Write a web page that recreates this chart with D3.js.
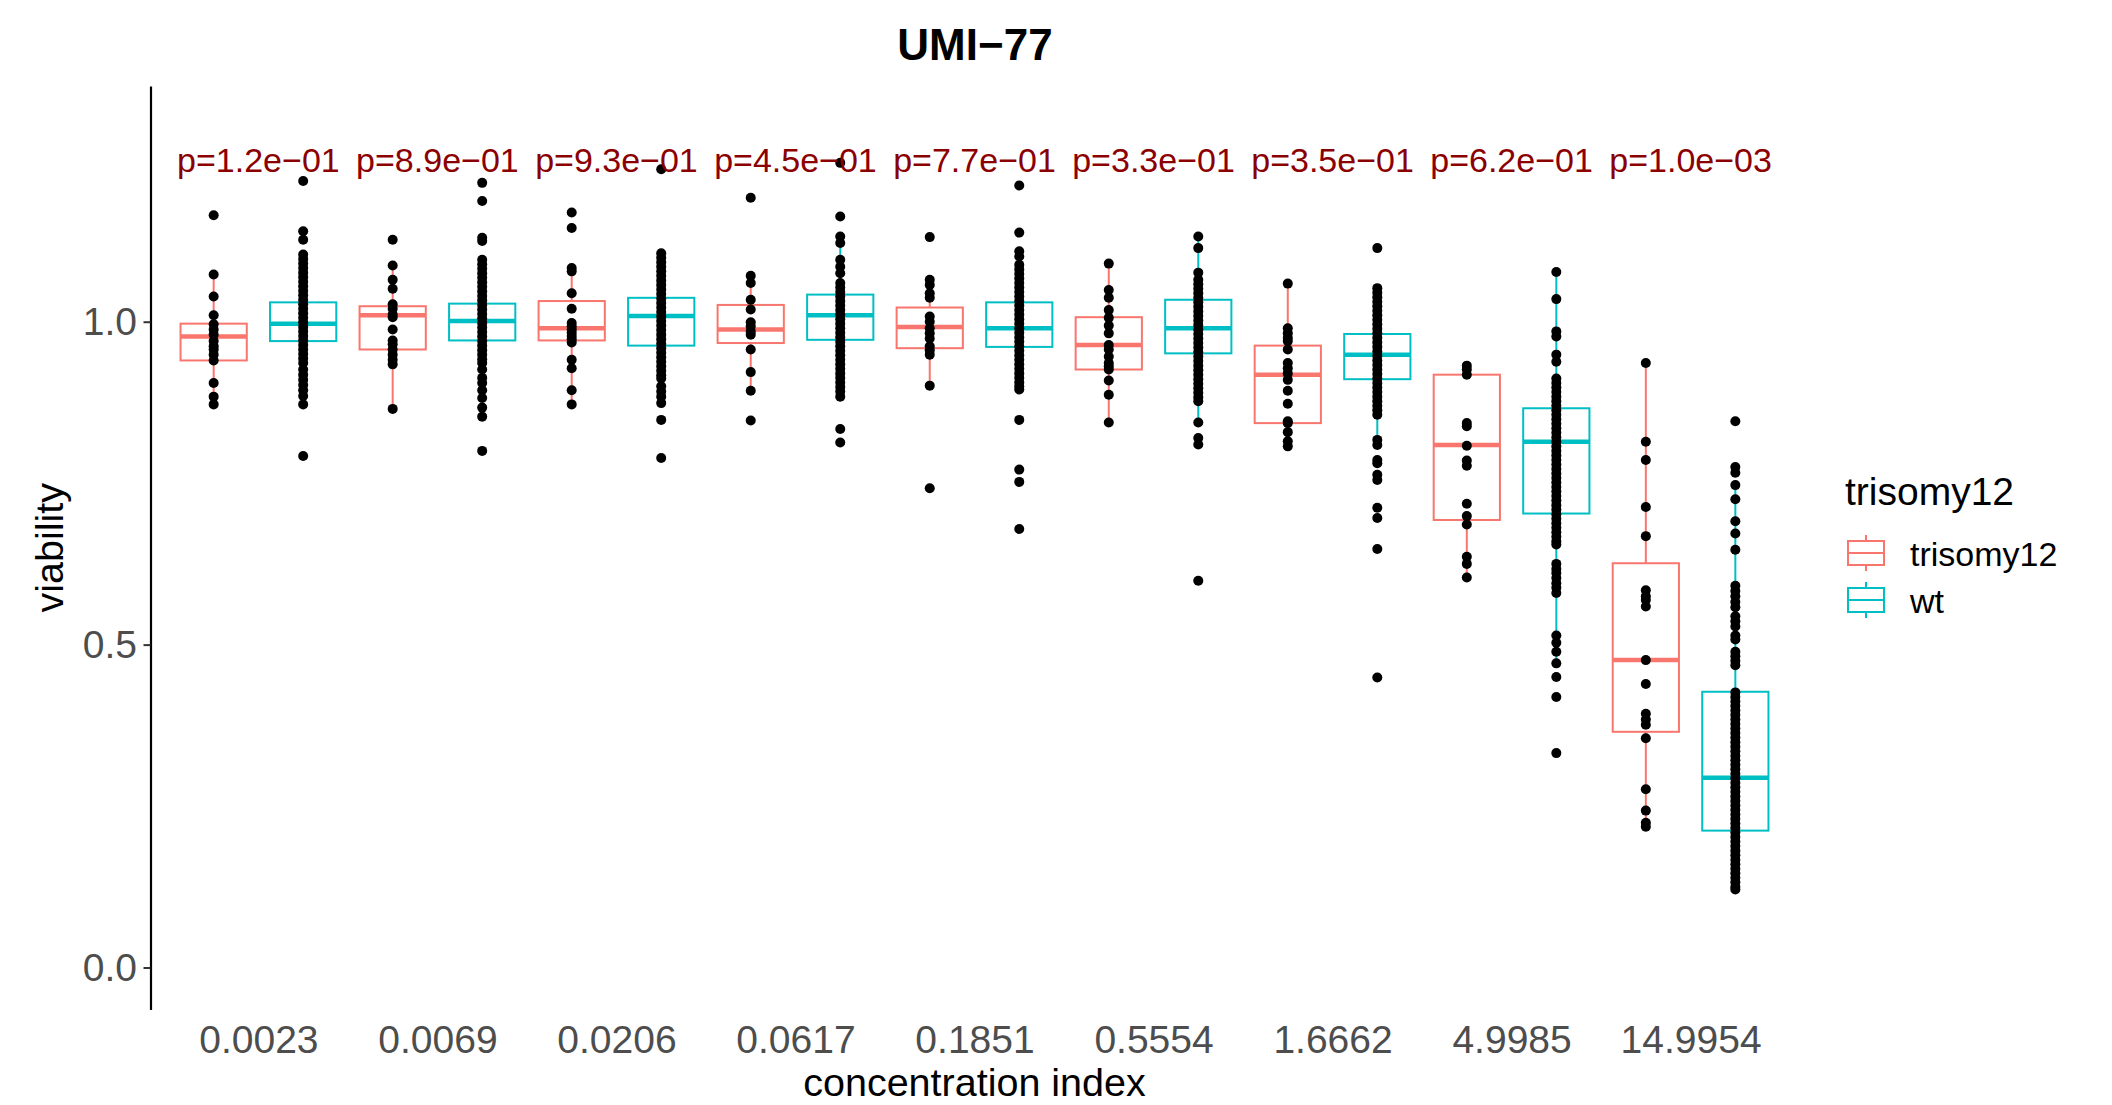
<!DOCTYPE html>
<html>
<head>
<meta charset="utf-8">
<script src="https://cdn.jsdelivr.net/npm/d3@7"></script>
<style>
  body { margin: 0; background: #fff; }
  text { font-family: "Liberation Sans", Arial, sans-serif; }
</style>
</head>
<body>
<svg id="chart" width="2112" height="1105"></svg>
<script>
const concentrations = ["0.0023", "0.0069", "0.0206", "0.0617", "0.1851", "0.5554", "1.6662", "4.9985", "14.9954"];
const pLabels = ["p=1.2e−01", "p=8.9e−01", "p=9.3e−01", "p=4.5e−01", "p=7.7e−01", "p=3.3e−01", "p=3.5e−01", "p=6.2e−01", "p=1.0e−03"];
const groupNames = ["trisomy12", "wt"];
const groupColors = ["#F8766D", "#00BFC4"];
const yTicks = [0, 0.5, 1];

// [lower whisker, q1, median, q3, upper whisker]
const triBoxes = [
  [0.872, 0.940, 0.977, 0.997, 1.073],
  [0.865, 0.957, 1.010, 1.024, 1.087],
  [0.872, 0.971, 0.990, 1.032, 1.083],
  [0.893, 0.967, 0.988, 1.026, 1.071],
  [0.901, 0.959, 0.992, 1.022, 1.065],
  [0.844, 0.926, 0.964, 1.007, 1.090],
  [0.807, 0.843, 0.918, 0.963, 1.059],
  [0.604, 0.693, 0.809, 0.918, 0.932],
  [0.218, 0.365, 0.476, 0.626, 0.936]
];
const wtBoxes = [
  [0.885, 0.970, 0.997, 1.030, 1.104],
  [0.882, 0.971, 1.001, 1.028, 1.096],
  [0.874, 0.963, 1.009, 1.037, 1.106],
  [0.884, 0.972, 1.010, 1.042, 1.132],
  [0.895, 0.961, 0.990, 1.030, 1.109],
  [0.844, 0.951, 0.990, 1.034, 1.132],
  [0.809, 0.911, 0.949, 0.981, 1.052],
  [0.471, 0.703, 0.814, 0.866, 1.077],
  [0.121, 0.212, 0.294, 0.427, 0.747]
];

// viability per sample
const triPoints = [
  [1.165, 1.073, 1.039, 1.010, 0.996, 0.988, 0.980, 0.970, 0.962, 0.957, 0.949, 0.940, 0.905, 0.884, 0.872],
  [1.127, 1.087, 1.065, 1.051, 1.027, 1.020, 1.011, 1.007, 0.988, 0.971, 0.965, 0.957, 0.949, 0.941, 0.934, 0.865],
  [1.169, 1.145, 1.083, 1.078, 1.044, 1.020, 0.998, 0.993, 0.988, 0.983, 0.978, 0.973, 0.968, 0.941, 0.928, 0.894, 0.872],
  [1.192, 1.071, 1.060, 1.034, 1.019, 0.999, 0.993, 0.985, 0.980, 0.957, 0.922, 0.893, 0.847],
  [1.131, 1.065, 1.057, 1.044, 1.037, 1.008, 1.000, 0.990, 0.982, 0.974, 0.962, 0.956, 0.949, 0.901, 0.742],
  [1.090, 1.049, 1.037, 1.018, 1.006, 0.994, 0.982, 0.964, 0.957, 0.946, 0.936, 0.931, 0.926, 0.909, 0.887, 0.844],
  [1.059, 0.990, 0.982, 0.975, 0.970, 0.957, 0.936, 0.928, 0.920, 0.910, 0.893, 0.873, 0.846, 0.843, 0.829, 0.815, 0.807],
  [0.932, 0.926, 0.918, 0.843, 0.838, 0.808, 0.785, 0.777, 0.718, 0.699, 0.686, 0.636, 0.625, 0.604],
  [0.936, 0.814, 0.786, 0.713, 0.668, 0.584, 0.575, 0.569, 0.559, 0.476, 0.439, 0.393, 0.384, 0.376, 0.355, 0.276, 0.243, 0.224, 0.218]
];
const wtPoints = [
  [1.218, 1.140, 1.127, 1.104, 1.097, 1.090, 1.083, 1.076, 1.069, 1.062, 1.055, 1.048, 1.041, 1.034, 1.027, 1.020,
   1.013, 1.006, 0.999, 0.992, 0.985, 0.978, 0.971, 0.964, 0.957, 0.950, 0.943, 0.936, 0.926, 0.918, 0.910, 0.902,
   0.894, 0.885, 0.872, 0.792],
  [1.215, 1.187, 1.130, 1.125, 1.096, 1.089, 1.082, 1.075, 1.068, 1.061, 1.054, 1.047, 1.040, 1.033, 1.026, 1.019,
   1.012, 1.005, 0.998, 0.991, 0.984, 0.977, 0.970, 0.963, 0.956, 0.949, 0.942, 0.936, 0.926, 0.913, 0.905, 0.894,
   0.882, 0.867, 0.853, 0.800],
  [1.236, 1.106, 1.099, 1.092, 1.085, 1.078, 1.071, 1.064, 1.057, 1.050, 1.043, 1.036, 1.029, 1.022, 1.015, 1.008,
   1.001, 0.994, 0.987, 0.980, 0.973, 0.966, 0.959, 0.952, 0.945, 0.938, 0.931, 0.924, 0.917, 0.912, 0.900, 0.892,
   0.884, 0.874, 0.848, 0.789],
  [1.246, 1.163, 1.132, 1.122, 1.096, 1.085, 1.075, 1.060, 1.053, 1.046, 1.039, 1.032, 1.025, 1.018, 1.011, 1.004,
   0.997, 0.990, 0.983, 0.976, 0.969, 0.962, 0.955, 0.948, 0.941, 0.934, 0.927, 0.920, 0.913, 0.906, 0.899, 0.892,
   0.884, 0.834, 0.813],
  [1.211, 1.138, 1.109, 1.101, 1.088, 1.081, 1.074, 1.067, 1.060, 1.053, 1.046, 1.039, 1.032, 1.025, 1.018, 1.011,
   1.004, 0.997, 0.990, 0.983, 0.976, 0.969, 0.962, 0.955, 0.948, 0.941, 0.934, 0.927, 0.920, 0.913, 0.906, 0.900,
   0.895, 0.848, 0.771, 0.752, 0.679],
  [1.132, 1.114, 1.076, 1.065, 1.058, 1.051, 1.044, 1.037, 1.030, 1.023, 1.016, 1.009, 1.002, 0.995, 0.988, 0.981,
   0.974, 0.967, 0.960, 0.953, 0.946, 0.939, 0.932, 0.925, 0.918, 0.911, 0.904, 0.897, 0.890, 0.883, 0.877, 0.844,
   0.820, 0.810, 0.599],
  [1.114, 1.052, 1.045, 1.038, 1.031, 1.024, 1.017, 1.010, 1.003, 0.996, 0.989, 0.982, 0.975, 0.968, 0.961, 0.954,
   0.947, 0.940, 0.933, 0.926, 0.919, 0.912, 0.905, 0.898, 0.891, 0.884, 0.877, 0.870, 0.863, 0.856, 0.817, 0.809,
   0.786, 0.781, 0.763, 0.755, 0.712, 0.696, 0.648, 0.449],
  [1.077, 1.035, 0.985, 0.977, 0.949, 0.938, 0.912, 0.905, 0.898, 0.891, 0.884, 0.877, 0.870, 0.863, 0.856, 0.849,
   0.842, 0.835, 0.828, 0.821, 0.814, 0.807, 0.800, 0.793, 0.786, 0.779, 0.772, 0.765, 0.758, 0.751, 0.744, 0.737,
   0.730, 0.723, 0.716, 0.709, 0.702, 0.695, 0.688, 0.681, 0.674, 0.667, 0.660, 0.655, 0.625, 0.617, 0.611, 0.603,
   0.595, 0.588, 0.580, 0.514, 0.503, 0.489, 0.471, 0.450, 0.419, 0.332],
  [0.846, 0.775, 0.766, 0.747, 0.725, 0.691, 0.672, 0.647, 0.591, 0.583, 0.575, 0.566, 0.558, 0.544, 0.536, 0.528,
   0.514, 0.508, 0.489, 0.482, 0.475, 0.468, 0.426, 0.419, 0.412, 0.405, 0.398, 0.391, 0.384, 0.377, 0.370, 0.363,
   0.356, 0.349, 0.342, 0.335, 0.328, 0.321, 0.314, 0.307, 0.300, 0.293, 0.286, 0.279, 0.272, 0.265, 0.258, 0.251,
   0.244, 0.237, 0.230, 0.223, 0.216, 0.209, 0.202, 0.195, 0.188, 0.181, 0.174, 0.167, 0.160, 0.153, 0.146, 0.139,
   0.132, 0.125, 0.121]
];

const svg = d3.select("#chart");
const panel = { left: 151, right: 1798, top: 86, bottom: 1009.5 };

const x = d3.scalePoint()
  .domain(concentrations)
  .range([panel.left, panel.right])
  .padding(0.6);
const y = d3.scaleLinear()
  .domain([-0.065, 1.365])
  .range([panel.bottom, panel.top]);

const step = x.step();
const dodge = [-0.25 * step, 0.25 * step];
const boxW = 0.37 * step;

svg.append("rect").attr("width", 2112).attr("height", 1105).attr("fill", "#fff");

// boxes
const boxSets = [triBoxes, wtBoxes];
boxSets.forEach((boxes, g) => {
  const grp = svg.append("g").attr("class", "box-" + groupNames[g]);
  const color = groupColors[g];
  boxes.forEach((b, i) => {
    const cx = x(concentrations[i]) + dodge[g];
    grp.append("line")
      .attr("x1", cx).attr("x2", cx)
      .attr("y1", y(b[4])).attr("y2", y(b[3]))
      .attr("stroke", color).attr("stroke-width", 2);
    grp.append("line")
      .attr("x1", cx).attr("x2", cx)
      .attr("y1", y(b[1])).attr("y2", y(b[0]))
      .attr("stroke", color).attr("stroke-width", 2);
    grp.append("rect")
      .attr("x", cx - boxW / 2).attr("width", boxW)
      .attr("y", y(b[3])).attr("height", y(b[1]) - y(b[3]))
      .attr("fill", "#fff").attr("stroke", color).attr("stroke-width", 2);
    grp.append("line")
      .attr("x1", cx - boxW / 2).attr("x2", cx + boxW / 2)
      .attr("y1", y(b[2])).attr("y2", y(b[2]))
      .attr("stroke", color).attr("stroke-width", 4.5);
  });
});

// points on top
const pointSets = [triPoints, wtPoints];
pointSets.forEach((sets, g) => {
  sets.forEach((vals, i) => {
    svg.append("g")
      .selectAll("circle")
      .data(vals)
      .enter()
      .append("circle")
      .attr("cx", x(concentrations[i]) + dodge[g])
      .attr("cy", d => y(d))
      .attr("r", 5)
      .attr("fill", "#000");
  });
});

// p-values
svg.append("g")
  .selectAll("text")
  .data(pLabels)
  .enter()
  .append("text")
  .attr("x", (d, i) => x(concentrations[i]))
  .attr("y", y(1.25) + 12)
  .attr("text-anchor", "middle")
  .attr("font-size", 34)
  .attr("fill", "#8B0000")
  .text(d => d);

// y axis
const yAxis = svg.append("g")
  .attr("transform", `translate(${panel.left - 0.5},0)`)
  .call(d3.axisLeft(y).tickValues(yTicks).tickFormat(d3.format(".1f")).tickSize(7).tickSizeOuter(0).tickPadding(6.5));
yAxis.select(".domain").attr("stroke", "#000").attr("stroke-width", 2.2);
yAxis.selectAll(".tick line").attr("stroke", "#333").attr("stroke-width", 2);
yAxis.selectAll(".tick text")
  .attr("font-size", 39)
  .attr("fill", "#4D4D4D")
  .attr("font-family", "Liberation Sans, Arial, sans-serif");

// x axis (labels only)
const xAxis = svg.append("g")
  .attr("transform", `translate(0,${panel.bottom})`)
  .call(d3.axisBottom(x).tickSize(0).tickPadding(15.5));
xAxis.select(".domain").remove();
xAxis.selectAll(".tick text")
  .attr("font-size", 39)
  .attr("fill", "#4D4D4D")
  .attr("font-family", "Liberation Sans, Arial, sans-serif");

// titles
svg.append("text")
  .attr("x", 975).attr("y", 60)
  .attr("text-anchor", "middle")
  .attr("font-size", 44).attr("font-weight", "bold")
  .text("UMI−77");

svg.append("text")
  .attr("x", (panel.left + panel.right) / 2).attr("y", 1096)
  .attr("text-anchor", "middle")
  .attr("font-size", 39.5)
  .text("concentration index");

svg.append("text")
  .attr("transform", `translate(63,${(panel.top + panel.bottom) / 2}) rotate(-90)`)
  .attr("text-anchor", "middle")
  .attr("font-size", 39.5)
  .text("viability");

// legend
const legend = svg.append("g").attr("transform", "translate(1845,0)");
legend.append("text")
  .attr("x", 0).attr("y", 505)
  .attr("font-size", 39)
  .text("trisomy12");

const keyCenters = [553, 600];
groupNames.forEach((name, g) => {
  const cy = keyCenters[g];
  const kx = 21;
  const k = legend.append("g");
  k.append("line").attr("x1", kx).attr("x2", kx).attr("y1", cy - 18).attr("y2", cy + 18)
    .attr("stroke", groupColors[g]).attr("stroke-width", 2);
  k.append("rect").attr("x", kx - 18).attr("width", 36).attr("y", cy - 12).attr("height", 24)
    .attr("fill", "#fff").attr("stroke", groupColors[g]).attr("stroke-width", 2);
  k.append("line").attr("x1", kx - 18).attr("x2", kx + 18).attr("y1", cy).attr("y2", cy)
    .attr("stroke", groupColors[g]).attr("stroke-width", 2);
  legend.append("text")
    .attr("x", 65).attr("y", cy + 12.5)
    .attr("font-size", 34)
    .text(name);
});
</script>
</body>
</html>
